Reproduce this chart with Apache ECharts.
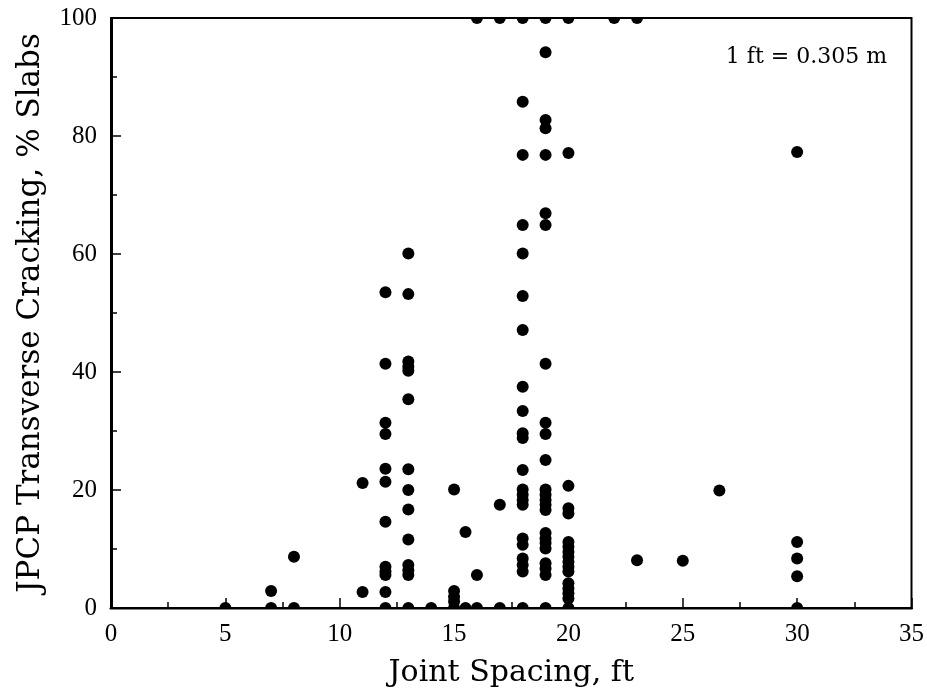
<!DOCTYPE html>
<html>
<head>
<meta charset="utf-8">
<script src="https://cdn.jsdelivr.net/npm/echarts@6/dist/echarts.min.js"></script>
<style>html,body{margin:0;padding:0;background:#fff;}#chart{width:927px;height:699px;}</style>
</head>
<body>
<div id="chart"></div>
<script>
// Joint spacing (ft) groups and the transverse cracking (% slabs) values read at each spacing
const jointSpacings = [5, 7, 8, 11, 12, 13, 14, 15, 15.5, 16, 17, 18, 19, 20, 22, 23, 25, 26.6, 30];
const crackAt5 = [0];
const crackAt7 = [0, 2.9];
const crackAt8 = [0, 8.7];
const crackAt11 = [2.7, 21.2];
const crackAt12 = [0, 2.7, 5.6, 6.2, 7.0, 14.6, 21.4, 23.6, 29.5, 31.4, 41.4, 53.5];
const crackAt13 = [0, 5.6, 6.4, 7.3, 11.6, 16.7, 20.0, 23.5, 35.4, 40.2, 40.9, 41.8, 53.2, 60.1];
const crackAt14 = [0];
const crackAt15 = [0, 1.1, 1.9, 2.9, 20.1];
const crackAt15_5 = [0, 12.9];
const crackAt16 = [0, 5.6, 100];
const crackAt17 = [0, 17.5, 100];
const crackAt18 = [0, 6.2, 7.3, 8.4, 10.7, 11.8, 17.5, 18.3, 19.2, 20.1, 23.4, 28.8, 29.6, 33.4, 37.5, 47.1, 52.9, 60.1, 64.9, 76.8, 85.8, 100];
const crackAt19 = [0, 5.6, 6.7, 7.6, 10.1, 11.0, 11.8, 12.7, 16.6, 17.5, 18.3, 19.2, 20.1, 25.1, 29.5, 31.4, 41.4, 64.9, 66.9, 76.8, 81.3, 82.7, 94.2, 100];
const crackAt20 = [0, 1.6, 2.5, 3.3, 4.2, 6.2, 7.0, 7.8, 8.7, 9.5, 10.4, 11.2, 16.0, 16.9, 20.7, 77.1, 100];
const crackAt22 = [100];
const crackAt23 = [8.1, 100];
const crackAt25 = [8.0];
const crackAt26_6 = [19.9];
const crackAt30 = [0, 5.4, 8.4, 11.2, 77.3];
const crackingBySpacing = [crackAt5, crackAt7, crackAt8, crackAt11, crackAt12, crackAt13, crackAt14, crackAt15, crackAt15_5,
  crackAt16, crackAt17, crackAt18, crackAt19, crackAt20, crackAt22, crackAt23, crackAt25, crackAt26_6, crackAt30];
const xTickLabels = ['0', '5', '10', '15', '20', '25', '30', '35'];
const yTickLabels = ['0', '20', '40', '60', '80', '100'];

const points = [];
jointSpacings.forEach((x, i) => crackingBySpacing[i].forEach(y => points.push([x, y])));

const serif = 'Liberation Serif';
const titleFont = 'DejaVu Serif';
const G = {left: 111, top: 18, right: 15, bottom: 91};
const chart = echarts.init(document.getElementById('chart'), null, {renderer: 'canvas'});
chart.setOption({
  animation: false,
  backgroundColor: '#fff',
  grid: Object.assign({show: true, borderColor: '#000', borderWidth: 2, backgroundColor: 'transparent'}, G),
  xAxis: {
    type: 'value', min: 0, max: 35, interval: 5,
    axisLine: {show: true, onZero: false, lineStyle: {color: '#000', width: 3}},
    axisTick: {show: true, inside: true, length: 10, lineStyle: {color: '#000', width: 1.5}},
    minorTick: {show: true, splitNumber: 2, length: 6, lineStyle: {color: '#000', width: 1.5}},
    splitLine: {show: false},
    axisLabel: {color: '#000', fontFamily: serif, fontSize: 25, margin: 14,
      formatter: v => xTickLabels[Math.round(v / 5)]},
    name: 'Joint Spacing, ft', nameLocation: 'middle', nameGap: 50,
    nameTextStyle: {color: '#000', fontFamily: titleFont, fontSize: 30}
  },
  yAxis: {
    type: 'value', min: 0, max: 100, interval: 20,
    axisLine: {show: true, onZero: false, lineStyle: {color: '#000', width: 3}},
    axisTick: {show: true, inside: true, length: 10, lineStyle: {color: '#000', width: 1.5}},
    minorTick: {show: true, splitNumber: 2, length: 6, lineStyle: {color: '#000', width: 1.5}},
    splitLine: {show: false},
    axisLabel: {color: '#000', fontFamily: serif, fontSize: 25, margin: 14,
      formatter: v => yTickLabels[Math.round(v / 20)]},
    name: 'JPCP Transverse Cracking, % Slabs', nameLocation: 'middle', nameGap: 65, nameRotate: 90,
    nameTextStyle: {color: '#000', fontFamily: titleFont, fontSize: 31}
  },
  graphic: [
    {type: 'text', right: 40, top: 46, z: 50,
      style: {text: '1 ft = 0.305 m', fill: '#000', font: '22px "DejaVu Serif"'}},
    // white masks so markers sitting on the frame show only the half inside the plot
    {type: 'rect', z: 100, silent: true,
      shape: {x: G.left - 2, y: 699 - G.bottom + 1.6, width: 927 - G.left - G.right + 4, height: 8},
      style: {fill: '#fff'}},
    {type: 'rect', z: 100, silent: true,
      shape: {x: G.left - 2, y: G.top - 9, width: 927 - G.left - G.right + 4, height: 8},
      style: {fill: '#fff'}}
  ],
  series: [{
    type: 'custom',
    clip: true,
    data: points,
    encode: {x: 0, y: 1},
    renderItem: function (params, api) {
      const c = api.coord([api.value(0), api.value(1)]);
      return {type: 'circle', shape: {cx: c[0], cy: c[1], r: 6}, style: {fill: '#000'}};
    }
  }]
});
</script>
</body>
</html>
